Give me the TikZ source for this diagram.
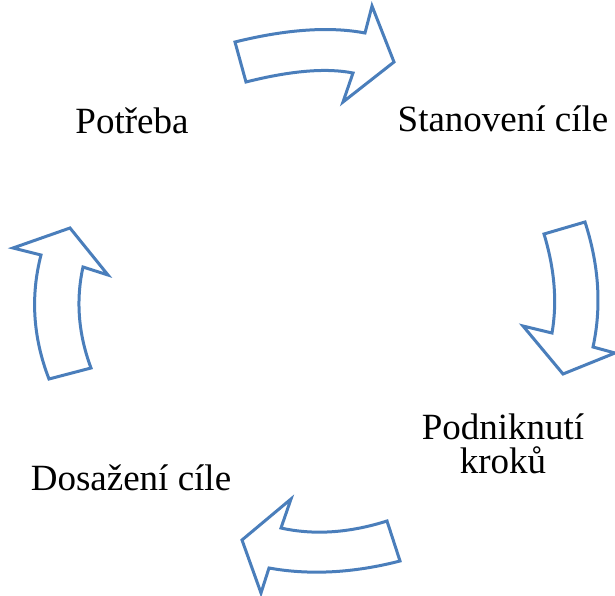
\documentclass[tikz,border=0pt]{standalone}
\usepackage{fontspec}
\setmainfont{Liberation Serif}
\definecolor{arrowblue}{RGB}{74,126,187}
\begin{document}
\begin{tikzpicture}[x=1pt,y=-1pt,
  bentarrow/.style={draw=arrowblue,line width=3pt,fill=white,line join=miter},
  label/.style={font=\fontsize{37}{34}\selectfont,inner sep=0pt,anchor=base,align=center}]
\useasboundingbox (0,0) rectangle (615,596);

% step labels
\node[label] (need) at (132,134) {Potřeba};
\node[label] (goal) at (503,132) {Stanovení cíle};
\node[label] (act) at (503,473) {Podniknutí\\kroků};
\node[label] (done) at (131,490) {Dosažení cíle};

% top arrow, pointing right
\draw[bentarrow] (235,42) .. controls (286.3,29.3) and (329.7,26.3) .. (365,33)
  -- (372,6) -- (394,62) -- (343,102) -- (353,73)
  .. controls (326.3,67.7) and (290.7,70.7) .. (246,82) -- cycle;

% right arrow, pointing down
\draw[bentarrow] (544,234) -- (585,222)
  .. controls (599,265.3) and (601.7,307) .. (593,347)
  -- (615,353) -- (563,374) -- (523,326) -- (552,333)
  .. controls (557.3,302.3) and (554.7,269.3) .. cycle;

% bottom arrow, pointing left
\draw[bentarrow] (387,521) -- (400,561)
  .. controls (353.3,573) and (309.7,575.3) .. (269,568)
  -- (261,593) -- (242,540) -- (291,499) -- (281,528)
  .. controls (313.7,535.3) and (349,533) .. cycle;

% left arrow, pointing up
\draw[bentarrow] (49,379) -- (91,368)
  .. controls (78.3,334) and (75.7,300.3) .. (83,267)
  -- (108,275) -- (70,228) -- (13,248) -- (41,255)
  .. controls (30.3,296.3) and (33,337.7) .. cycle;
\end{tikzpicture}
\end{document}
